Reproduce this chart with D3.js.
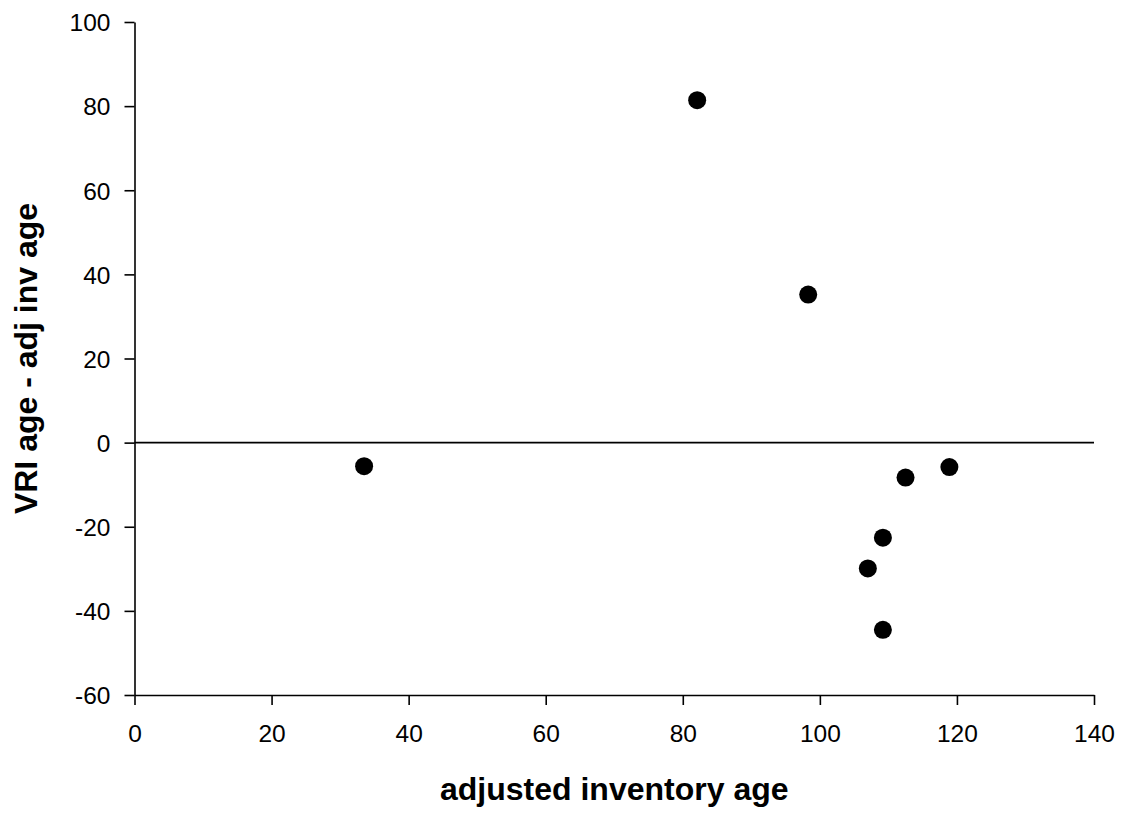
<!DOCTYPE html>
<meta charset="utf-8">
<style>
  body { margin: 0; background: #fff; }
  text { font-family: "Liberation Sans", Arial, sans-serif; }
</style>
<body>
<div id="chart"></div>
<script src="https://d3js.org/d3.v7.min.js"></script>
<script>

// data
var invAge = [33.5, 82.1, 98.3, 112.5, 118.9, 109.2, 107.0, 109.2];
var ageDiff = [-5.6, 81.4, 35.2, -8.3, -5.8, -22.6, -29.9, -44.5];
var xTicks = [0, 20, 40, 60, 80, 100, 120, 140];
var yTicks = [-60, -40, -20, 0, 20, 40, 60, 80, 100];

var W = 1122, H = 813;
var margin = {top: 22, right: 28, bottom: 118, left: 134.5};

var svg = d3.select("#chart").append("svg")
    .attr("width", W)
    .attr("height", H);

var x = d3.scaleLinear().domain([0, 140]).range([margin.left, W - margin.right]);
var y = d3.scaleLinear().domain([-60, 100]).range([H - margin.bottom, margin.top]);

// plain hyphen for negatives, like the original
var fmt = function(d) { return String(d); };

// x axis at the bottom
var gx = svg.append("g")
    .attr("transform", "translate(0," + y(-60) + ")")
    .call(d3.axisBottom(x).tickValues(xTicks).tickFormat(fmt)
      .tickSize(10).tickSizeOuter(0).tickPadding(20));

// y axis on the left
var gy = svg.append("g")
    .attr("transform", "translate(" + x(0) + ",0)")
    .call(d3.axisLeft(y).tickValues(yTicks).tickFormat(fmt)
      .tickSize(10).tickSizeOuter(0).tickPadding(14));

[gx, gy].forEach(function(g) {
  g.selectAll("path, line").attr("stroke", "#000").attr("stroke-width", 1.6);
  g.selectAll("text").attr("fill", "#000").style("font-size", "24.5px")
    .style("font-family", "'Liberation Sans', Arial, sans-serif");
});
gx.selectAll("text").attr("dy", "0.71em");
gy.selectAll("text").attr("dy", "0.36em");

// zero line
svg.append("line")
    .attr("x1", x(0)).attr("x2", x(140))
    .attr("y1", y(0)).attr("y2", y(0))
    .attr("stroke", "#000").attr("stroke-width", 1.6);

// points
svg.selectAll("circle.pt")
  .data(invAge)
  .enter().append("circle")
    .attr("class", "pt")
    .attr("cx", function(d) { return x(d); })
    .attr("cy", function(d, i) { return y(ageDiff[i]); })
    .attr("r", 9)
    .attr("fill", "#000");

// axis titles
svg.append("text")
    .attr("x", (x(0) + x(140)) / 2).attr("y", 800)
    .attr("text-anchor", "middle")
    .style("font-size", "32px").style("font-weight", "bold")
    .text("adjusted inventory age");

svg.append("text")
    .attr("transform", "translate(37," + (y(-60) + y(100)) / 2 + ") rotate(-90)")
    .attr("text-anchor", "middle")
    .style("font-size", "32px").style("font-weight", "bold")
    .text("VRI age - adj inv age");

</script>
</body>
